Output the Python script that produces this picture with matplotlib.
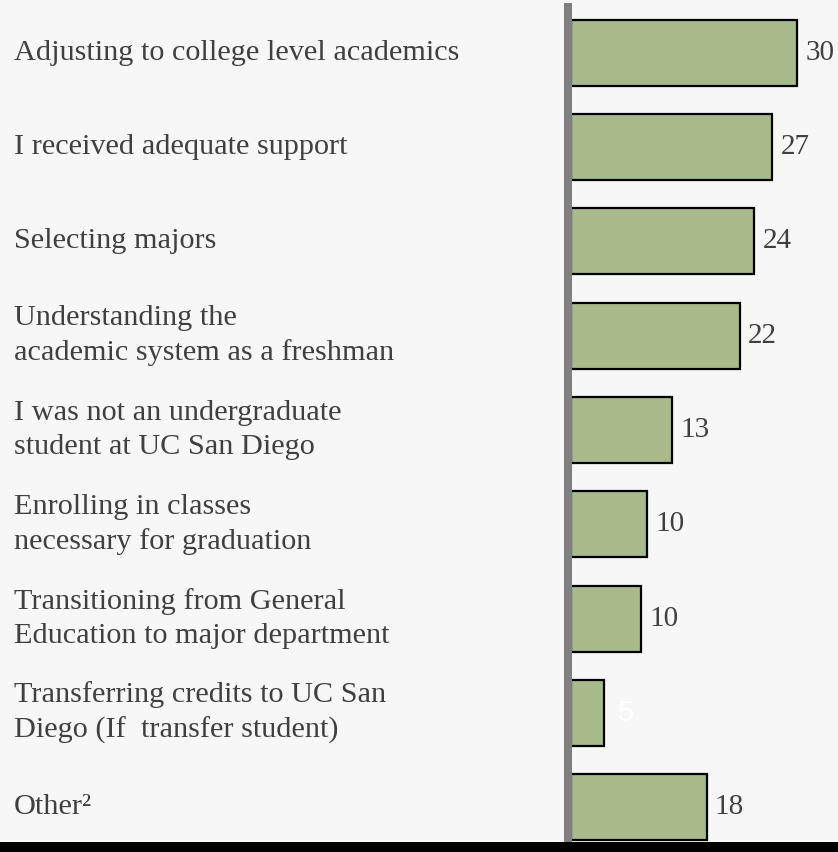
import matplotlib.pyplot as plt
from matplotlib.lines import Line2D
from matplotlib.patches import Rectangle
from matplotlib.transforms import blended_transform_factory

labels = [
    "Adjusting to college level academics",
    "I received adequate support",
    "Selecting majors",
    "Understanding the\nacademic system as a freshman",
    "I was not an undergraduate\nstudent at UC San Diego",
    "Enrolling in classes\nnecessary for graduation",
    "Transitioning from General\nEducation to major department",
    "Transferring credits to UC San\nDiego (If  transfer student)",
    "Other²",
]
values = [30, 27, 24, 22, 13, 10, 10, 5, 18]
bar_len = [30, 26.7, 24.3, 22.4, 13.4, 10.1, 9.3, 4.4, 18]

bg = "#f7f7f7"
fig = plt.figure(figsize=(8.38, 8.52), dpi=100, facecolor=bg)
W, H = 838, 852
ax = fig.add_axes([571 / W, 0, 1 - 571 / W, 1])
ax.set_facecolor(bg)

pos = list(range(len(values)))
ax.barh(pos, bar_len, height=0.70, color="#a8b98b", edgecolor="black", linewidth=1.6)
ax.set_xlim(0, 267 / 7.53)
ax.set_ylim(8.477, -0.562)
ax.axis("off")

serif = "Liberation Serif"
trans = blended_transform_factory(fig.transFigure, ax.transData)
for p, lab in zip(pos, labels):
    ax.text(14 / W, p, lab, transform=trans, ha="left", va="center",
            fontsize=21.8, family=serif, color="#404040", linespacing=1.4)

for p, v, b in zip(pos, values, bar_len):
    if v == 5:
        ax.annotate(str(v), (b, p), xytext=(10, 0), textcoords="offset points",
                    ha="left", va="center", fontsize=21,
                    family="Liberation Sans", color="white")
    else:
        ax.annotate(str(v), (b, p), xytext=(6, 0), textcoords="offset points",
                    ha="left", va="center", fontsize=21,
                    family=serif, color="#404040")

# vertical axis line
fig.add_artist(Line2D([568 / W, 568 / W], [0, 1 - 7 / H], color="#808080",
                      linewidth=5.8, transform=fig.transFigure))
# black band at the bottom
fig.add_artist(Rectangle((0, 0), 1, 10 / H, transform=fig.transFigure,
                         facecolor="black", edgecolor="none", zorder=5))

fig.savefig("out.png", dpi=100, facecolor=bg)
